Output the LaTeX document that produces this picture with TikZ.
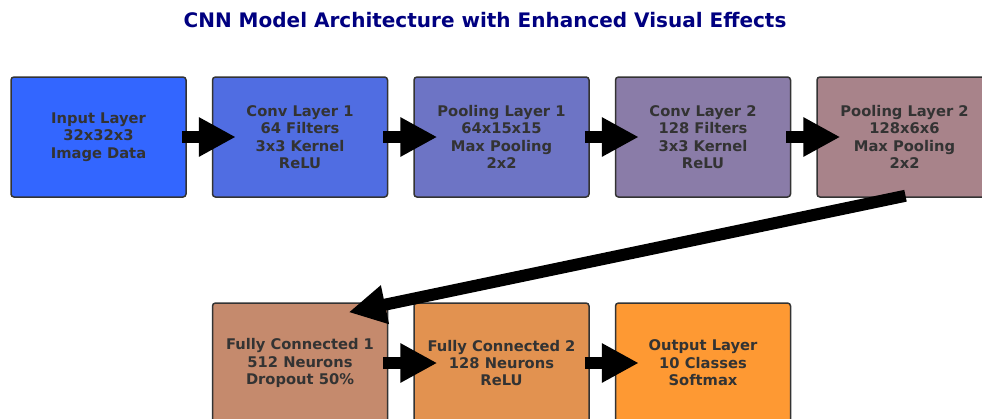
\documentclass[tikz,border=0pt]{standalone}
\usepackage{fontspec}
\setmainfont{DejaVu Sans}
\usetikzlibrary{arrows.meta,calc}
\definecolor{cA}{RGB}{51,102,255}
\definecolor{cB}{RGB}{80,109,226}
\definecolor{cC}{RGB}{109,116,197}
\definecolor{cD}{RGB}{138,124,168}
\definecolor{cE}{RGB}{168,131,138}
\definecolor{cF}{RGB}{197,138,109}
\definecolor{cG}{RGB}{226,146,80}
\definecolor{cH}{RGB}{254,153,51}
\definecolor{txtgray}{RGB}{51,51,51}
\definecolor{titleblue}{RGB}{0,0,128}
\begin{document}
\begin{tikzpicture}[x=1pt,y=-1pt,
  layer/.style={draw=txtgray, line width=1.5pt, rounded corners=3pt,
    minimum width=175pt, minimum height=120pt, inner sep=0pt,
    align=center, text=txtgray,
    font=\fontsize{14.7pt}{17.4pt}\selectfont\bfseries},
  flow/.style={line width=12pt, draw=black,
    -{Triangle[length=37pt,width=37pt]}}]
\useasboundingbox (0,0) rectangle (982,418);
\node[font=\fontsize{20pt}{24pt}\selectfont\bfseries, text=titleblue] (title) at (485,20)
  {CNN Model Architecture with Enhanced Visual Effects};
\node[layer, fill=cA] (in)  at (98.5,137) {Input Layer\\32x32x3\\Image Data};
\node[layer, fill=cB] (c1)  at (300,137)  {Conv Layer 1\\64 Filters\\3x3 Kernel\\ReLU};
\node[layer, fill=cC] (p1)  at (501.5,137) {Pooling Layer 1\\64x15x15\\Max Pooling\\2x2};
\node[layer, fill=cD] (c2)  at (703,137)  {Conv Layer 2\\128 Filters\\3x3 Kernel\\ReLU};
\node[layer, fill=cE] (p2)  at (904.5,137) {Pooling Layer 2\\128x6x6\\Max Pooling\\2x2};
\node[layer, fill=cF] (f1)  at (300,363)  {Fully Connected 1\\512 Neurons\\Dropout 50\%};
\node[layer, fill=cG] (f2)  at (501.5,363) {Fully Connected 2\\128 Neurons\\ReLU};
\node[layer, fill=cH] (out) at (703,363)  {Output Layer\\10 Classes\\Softmax};
\foreach \a/\b in {in/c1,c1/p1,p1/c2,c2/p2,f1/f2,f2/out}{
  \draw[flow] ($(\a.east)+(-5,0)$) -- ($(\b.west)+(24,0)$);
}
\draw[flow] ($(p2.south)+(1,-2)$) -- ($(f1.north east)+(-39.5,10)$);
\end{tikzpicture}
\end{document}
